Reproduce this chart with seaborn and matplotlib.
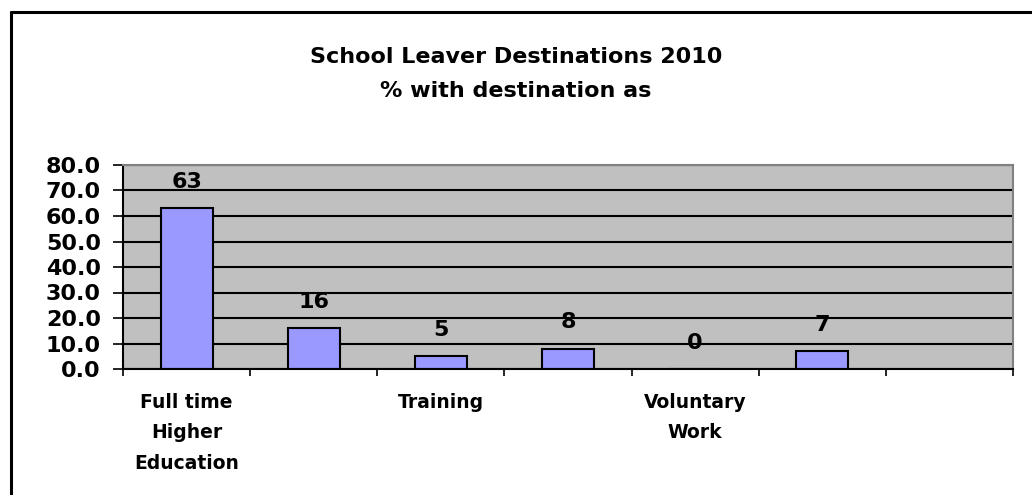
import numpy as np
import pandas as pd
import matplotlib
matplotlib.use("Agg")
import matplotlib.pyplot as plt
from matplotlib.lines import Line2D
import seaborn as sns

categories = ["Full time Higher Education", "Full time Further Education", "Training",
              "Employment", "Voluntary Work", "Unemployed", ""]
shown_labels = ["Full time\nHigher\nEducation", "", "Training", "", "Voluntary\nWork", "", ""]
values = [63, 16, 5, 8, 0, 7, np.nan]
title = "School Leaver Destinations 2010\n% with destination as"

sns.set_theme(style="white")
plt.rcParams['font.family'] = ['DejaVu Sans']
plt.rcParams['font.weight'] = 'bold'
plt.rcParams['text.color'] = 'black'
plt.rcParams['xtick.color'] = 'black'
plt.rcParams['ytick.color'] = 'black'
plt.rcParams['xtick.labelcolor'] = 'black'
plt.rcParams['ytick.labelcolor'] = 'black'

fig = plt.figure(figsize=(10.32, 4.95), dpi=100)
ax = fig.add_axes([123/1032, 1-369/495, 890/1032, 204/495])
ax.set_facecolor("#C0C0C0")

df = pd.DataFrame({"cat": categories, "val": values})
sns.barplot(data=df, x="cat", y="val", color="#9999FF", saturation=1, width=0.41,
            edgecolor="black", linewidth=1.5, ax=ax, order=categories, errorbar=None)

ax.set_ylim(0, 80)
ax.set_xlim(-0.5, len(categories) - 0.5)
ax.set_yticks(np.arange(0, 81, 10))
ax.set_yticklabels([f"{v:.1f}" for v in np.arange(0, 81, 10)], fontsize=16, fontweight='bold')
ax.yaxis.grid(True, color="black", linewidth=1.5)
ax.set_axisbelow(True)

ax.set_xticks(range(len(categories)))
ax.set_xticklabels(shown_labels, fontsize=13.5, fontweight='bold', linespacing=1.78, va='top')
ax.set_xticks(np.arange(-0.5, len(categories), 1), minor=True)
ax.tick_params(axis='x', which='major', length=0, pad=17)
ax.tick_params(axis='x', which='minor', length=5, width=1.2, color='black', bottom=True)
ax.tick_params(axis='y', length=7, width=1.2, color='black', left=True, pad=9)
ax.set_xlabel("")
ax.set_ylabel("")

for s in ["top", "right"]:
    ax.spines[s].set_color("#808080")
    ax.spines[s].set_linewidth(1.5)
for s in ["left", "bottom"]:
    ax.spines[s].set_color("black")
    ax.spines[s].set_linewidth(1.5)

for i, v in enumerate(values):
    if not np.isnan(v):
        ax.annotate(f"{v:g}", (i, v), xytext=(0, 19), textcoords="offset points",
                    ha="center", va="center", fontsize=16, fontweight="bold")

fig.text(0.5, 1-74/495, title, ha="center", va="center", fontsize=16,
         fontweight="bold", linespacing=1.9)

fig.add_artist(Line2D([11/1032, 11/1032], [0, 1-12/495], color="black", lw=2.2,
                      transform=fig.transFigure))
fig.add_artist(Line2D([11/1032, 1], [1-12/495, 1-12/495], color="black", lw=2.2,
                      transform=fig.transFigure))

fig.savefig("out.png", dpi=100)
